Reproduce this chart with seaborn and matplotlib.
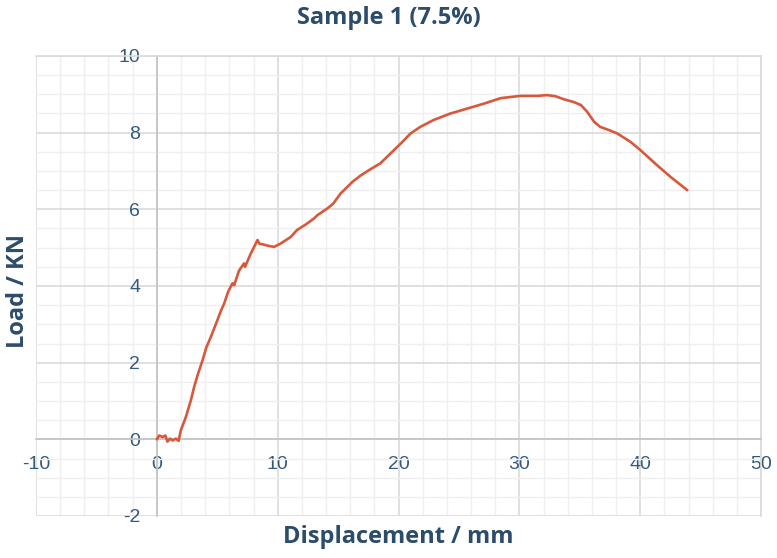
import pandas as pd
import seaborn as sns
import matplotlib.pyplot as plt
from matplotlib.ticker import MultipleLocator

# values
disp = [0.0, 0.2, 0.47, 0.7, 0.88, 1.1, 1.3, 1.57, 1.8, 1.98, 2.4, 2.8, 3.09,
        3.4, 3.78, 4.1, 4.47, 5.0, 5.3, 5.57, 5.9, 6.26, 6.4, 6.8, 7.22, 7.3,
        7.78, 8.1, 8.33, 8.5, 8.74, 9.2, 9.7, 10.26, 11.08, 11.6, 12.3, 13.0,
        13.3, 14.1, 14.6, 15.2, 16.2, 16.9, 17.7, 18.5, 19.35, 20.2, 21.0,
        21.8, 22.9, 24.3, 25.7, 27.1, 28.45, 30.1, 31.5, 32.3, 33.0, 33.7,
        34.5, 35.1, 35.6, 36.2, 36.7, 37.4, 38.1, 39.2, 40.0, 41.4, 42.5, 43.9]
load = [0.0, 0.1, 0.06, 0.1, -0.06, 0.02, -0.03, 0.02, -0.04, 0.23, 0.58,
        1.0, 1.37, 1.7, 2.06, 2.4, 2.67, 3.1, 3.35, 3.54, 3.85, 4.07, 4.02,
        4.4, 4.59, 4.5, 4.85, 5.05, 5.2, 5.1, 5.09, 5.05, 5.02, 5.11, 5.28,
        5.46, 5.6, 5.76, 5.85, 6.02, 6.15, 6.41, 6.72, 6.89, 7.05, 7.2, 7.46,
        7.72, 7.98, 8.15, 8.33, 8.5, 8.63, 8.76, 8.9, 8.96, 8.96, 8.98, 8.95,
        8.87, 8.8, 8.72, 8.55, 8.28, 8.15, 8.07, 7.98, 7.76, 7.55, 7.15, 6.85,
        6.5]

df = pd.DataFrame({'Displacement': disp, 'Load': load})

sns.set_theme(style='white')
plt.rcParams['font.family'] = ['Liberation Sans', 'DejaVu Sans']
plt.rcParams['axes.unicode_minus'] = False

text_col = '#2b4c6b'
tick_col = '#33597c'
bold_font = ['Open Sans', 'DejaVu Sans']

fig = plt.figure(figsize=(7.77, 5.58), dpi=100)
ax = fig.add_axes([36 / 777, 1 - 516 / 558, 725 / 777, 460 / 558])

sns.lineplot(data=df, x='Displacement', y='Load', sort=False, estimator=None,
             color='#d9573b', linewidth=1.9, ax=ax, zorder=5)

ax.set_xlim(-10, 50)
ax.set_ylim(-2, 10)
ax.xaxis.set_major_locator(MultipleLocator(10))
ax.yaxis.set_major_locator(MultipleLocator(2))
ax.xaxis.set_minor_locator(MultipleLocator(2))
ax.yaxis.set_minor_locator(MultipleLocator(0.5))

ax.grid(which='minor', color='#efefef', linewidth=1.0)
ax.grid(which='major', color='#dadada', linewidth=1.2)
ax.set_axisbelow(True)

# axes cross at the origin
ax.spines['left'].set_position(('data', 0))
ax.spines['bottom'].set_position(('data', 0))
for s in ['left', 'bottom']:
    ax.spines[s].set_color('#c4c4c4')
    ax.spines[s].set_linewidth(1.2)
for s in ['top', 'right']:
    ax.spines[s].set_color('#dadada')
    ax.spines[s].set_linewidth(1.2)

ax.tick_params(which='both', length=0, labelsize=14, labelcolor=tick_col)
ax.tick_params(axis='x', pad=12)
ax.tick_params(axis='y', pad=12)

ax.set_xlabel('Displacement / mm', fontsize=17, fontweight='bold',
              color=text_col, family=bold_font)
ax.xaxis.set_label_coords(0.5, -0.02)
ax.set_ylabel('Load / KN', fontsize=17, fontweight='bold',
              color=text_col, family=bold_font)
ax.yaxis.set_label_coords(-0.008, 0.49)

fig.text(0.5, 1 - 18 / 558, 'Sample 1 (7.5%)', ha='center', va='center',
         fontsize=17, fontweight='bold', color=text_col, family=bold_font)

plt.savefig('out.png', dpi=100)
